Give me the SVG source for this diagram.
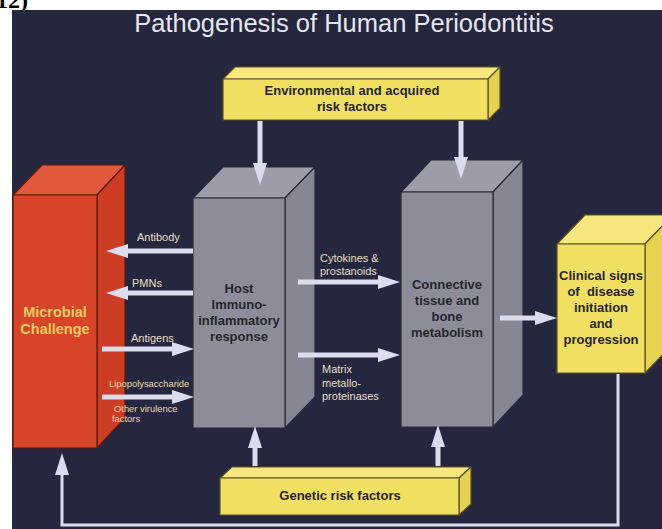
<svg xmlns="http://www.w3.org/2000/svg" width="662" height="529" viewBox="0 0 662 529">
<defs>
<marker id="ah" markerUnits="userSpaceOnUse" markerWidth="22" markerHeight="14" refX="10" refY="7" orient="auto" viewBox="0 0 22 14">
<path d="M0,0 L22,7 L0,14 z" fill="#dcdcef"/>
</marker>
<style>
.sh{stroke:#dcdcef;stroke-width:5;fill:none}
.ln{stroke:#dcdcef;stroke-width:3;fill:none}
.rf{fill:#d84428}.rt{fill:#e2583a}.rs{fill:#cc3d24}
.red{stroke:#5a1a10;stroke-width:1.2;stroke-linejoin:round}
.gf{fill:#8d8d9a}.gt{fill:#9c9cab}.gs{fill:#868694}
.grey{stroke:#2a2a33;stroke-width:1.2;stroke-linejoin:round}
.yf{fill:#f1df62}.yt{fill:#f6e87e}.ys{fill:#e4d250}
.yel{stroke:#5e5020;stroke-width:1.2;stroke-linejoin:round}
.bx{font-family:"Liberation Sans",Arial,sans-serif;font-weight:bold;font-size:13px;fill:#26262a;text-anchor:middle}
.lb{font-family:"Liberation Sans",Arial,sans-serif;font-size:11px;fill:#e6dfc2}
.sm{font-family:"Liberation Sans",Arial,sans-serif;font-size:9.4px;fill:#ecdca6}
</style>
</defs>
<text x="-4" y="8" font-family="Liberation Serif,serif" font-weight="bold" font-size="24" fill="#000">12)</text>
<rect x="12" y="10" width="650" height="519" fill="#25273f"/>
<text x="344" y="32" font-family="Liberation Sans,Arial,sans-serif" font-size="25.5" fill="#e6e6ee" text-anchor="middle">Pathogenesis of Human Periodontitis</text>

<g id="microbial" class="red">
<polygon class="rt" points="13,195 42,165 125,165 97,195"/>
<polygon class="rs" points="97,195 125,165 125,418 97,448"/>
<rect class="rf" x="13" y="195" width="84" height="253"/>
<text x="55" y="317" font-family="Liberation Sans,Arial,sans-serif" font-weight="bold" font-size="14.5" fill="#f2cc62" text-anchor="middle" stroke="none">Microbial</text>
<text x="55" y="334" font-family="Liberation Sans,Arial,sans-serif" font-weight="bold" font-size="14.5" fill="#f2cc62" text-anchor="middle" stroke="none">Challenge</text>
</g>

<g id="host" class="grey">
<polygon class="gt" points="193,198 223,167 315,167 285,198"/>
<polygon class="gs" points="285,198 315,167 315,397 285,428"/>
<rect class="gf" x="193" y="198" width="92" height="230"/>
<text class="bx" x="239" y="293" stroke="none">Host</text>
<text class="bx" x="239" y="309" stroke="none">Immuno-</text>
<text class="bx" x="239" y="325" stroke="none">inflammatory</text>
<text class="bx" x="239" y="341" stroke="none">response</text>
</g>

<g id="connective" class="grey">
<polygon class="gt" points="401,192 431,160 523,160 493,192"/>
<polygon class="gs" points="493,192 523,160 523,395 493,427"/>
<rect class="gf" x="401" y="192" width="92" height="235"/>
<text class="bx" x="447" y="289" stroke="none">Connective</text>
<text class="bx" x="447" y="305" stroke="none">tissue and</text>
<text class="bx" x="447" y="321" stroke="none">bone</text>
<text class="bx" x="447" y="337" stroke="none">metabolism</text>
</g>

<g id="clinical" class="yel">
<polygon class="yt" points="557,244 585,215 673,215 645,244"/>
<polygon class="ys" points="645,244 673,215 673,344 645,373"/>
<rect class="yf" x="557" y="244" width="88" height="129"/>
<text class="bx" x="601" y="280" stroke="none">Clinical signs</text>
<text class="bx" x="601" y="296" stroke="none" xml:space="preserve">of  disease</text>
<text class="bx" x="601" y="312" stroke="none">initiation</text>
<text class="bx" x="601" y="328" stroke="none">and</text>
<text class="bx" x="601" y="344" stroke="none">progression</text>
</g>

<g id="environmental" class="yel">
<polygon class="yt" points="223,79 235,67 500,67 488,79"/>
<polygon class="ys" points="488,79 500,67 500,108 488,120"/>
<rect class="yf" x="223" y="79" width="265" height="41"/>
<text class="bx" x="352" y="95" stroke="none">Environmental and acquired</text>
<text class="bx" x="352" y="111" stroke="none">risk factors</text>
</g>

<g id="genetic" class="yel">
<polygon class="yt" points="220,478 232,467 471,467 459,478"/>
<polygon class="ys" points="459,478 471,467 471,504 459,515"/>
<rect class="yf" x="220" y="478" width="239" height="37"/>
<text class="bx" x="340" y="500" stroke="none">Genetic risk factors</text>
</g>

<g id="connectors">
<line class="sh" x1="193" y1="251" x2="118" y2="251" marker-end="url(#ah)"/>
<line class="sh" x1="193" y1="293" x2="118" y2="293" marker-end="url(#ah)"/>
<line class="sh" x1="102" y1="349" x2="182" y2="349" marker-end="url(#ah)"/>
<line class="sh" x1="102" y1="397" x2="182" y2="397" marker-end="url(#ah)"/>
<line class="sh" x1="298" y1="282" x2="388" y2="282" marker-end="url(#ah)"/>
<line class="sh" x1="298" y1="355" x2="388" y2="355" marker-end="url(#ah)"/>
<line class="sh" x1="500" y1="318" x2="545" y2="318" marker-end="url(#ah)"/>
<line class="sh" x1="260" y1="121" x2="260" y2="173" marker-end="url(#ah)"/>
<line class="sh" x1="461" y1="121" x2="461" y2="167" marker-end="url(#ah)"/>
<line class="sh" x1="255" y1="466" x2="255" y2="438" marker-end="url(#ah)"/>
<line class="sh" x1="438" y1="466" x2="438" y2="437" marker-end="url(#ah)"/>
<polyline class="ln" points="618,374 618,525 62,525 62,470"/>
<line class="sh" x1="62" y1="472" x2="62" y2="465" marker-end="url(#ah)"/>
<text class="lb" x="137" y="241">Antibody</text>
<text class="lb" x="132" y="287">PMNs</text>
<text class="lb" x="131" y="342">Antigens</text>
<text class="sm" x="109" y="387">Lipopolysaccharide</text>
<text class="sm" x="114" y="412">Other virulence</text>
<text class="sm" x="112" y="422">factors</text>
<text class="lb" x="320" y="262">Cytokines &amp;</text>
<text class="lb" x="320" y="275">prostanoids</text>
<text class="lb" x="322" y="373">Matrix</text>
<text class="lb" x="322" y="387">metallo-</text>
<text class="lb" x="322" y="400">proteinases</text>
</g>
</svg>
